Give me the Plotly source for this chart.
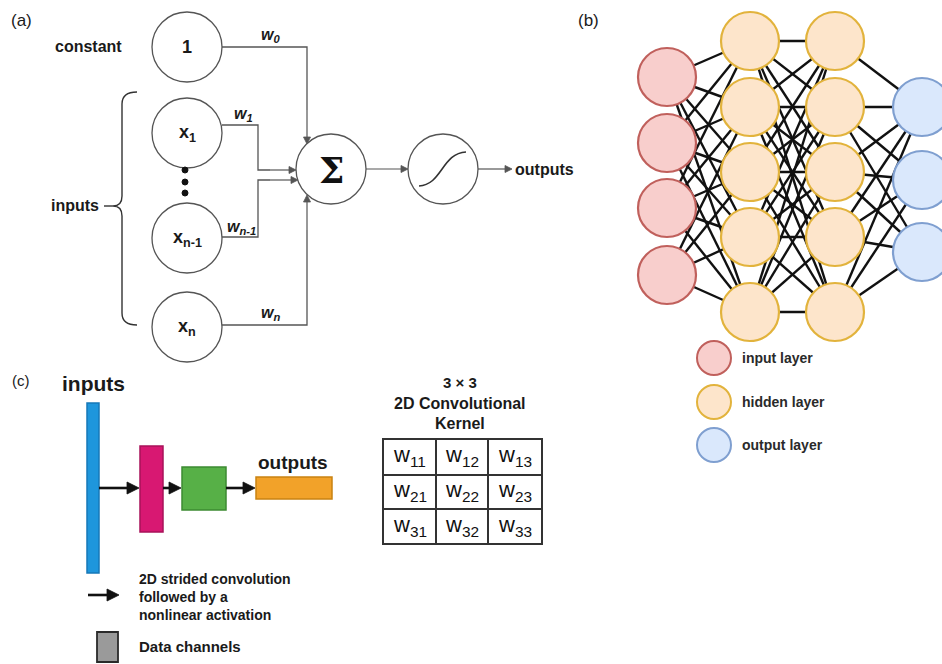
import math
import plotly.graph_objects as go

# ---------------- data ----------------
# (a) perceptron
perceptron_nodes = ["1", "x<sub>1</sub>", "x<sub>n-1</sub>", "x<sub>n</sub>"]
perceptron_weights = ["w<sub>0</sub>", "w<sub>1</sub>", "w<sub>n-1</sub>", "w<sub>n</sub>"]
perceptron_side_labels = ["constant", "inputs"]
perceptron_output = "outputs"

# (b) fully connected network
layer_sizes = [4, 5, 5, 3]
layer_kinds = ["input", "hidden", "hidden", "output"]
edges_in_h1 = {0: [0, 1, 2, 3, 4], 1: [0, 1, 2, 3, 4], 2: [0, 1, 2, 3, 4], 3: [1, 2, 3, 4]}
edges_h1_h2 = {0: [0, 1, 2, 3, 4], 1: [0, 1, 2, 3, 4], 2: [0, 1, 2, 3, 4], 3: [0, 1, 2, 3, 4], 4: [0, 1, 2, 3, 4]}
edges_h2_out = {0: [0], 1: [0, 1, 2], 2: [0, 1, 2], 3: [0, 1, 2], 4: [0, 1, 2]}
legend_b = ["input layer", "hidden layer", "output layer"]

# (c) CNN
cnn_labels = ["inputs", "outputs"]
cnn_legend = ["2D strided convolution<br>followed by a<br>nonlinear activation", "Data channels"]
kernel_title = ["3 × 3", "2D Convolutional", "Kernel"]
kernel_cells = [["w<sub>11</sub>", "w<sub>12</sub>", "w<sub>13</sub>"],
                ["w<sub>21</sub>", "w<sub>22</sub>", "w<sub>23</sub>"],
                ["w<sub>31</sub>", "w<sub>32</sub>", "w<sub>33</sub>"]]
panel_tags = ["(a)", "(b)", "(c)"]

# ---------------- drawing helpers ----------------
FONT = "Liberation Sans, Arial, sans-serif"
shapes = []
annotations = []


def circle(cx, cy, r, fill="white", line="#555", width=1.3):
    shapes.append(dict(type="circle", xref="x", yref="y", x0=cx - r, x1=cx + r, y0=cy - r, y1=cy + r,
                       fillcolor=fill, line=dict(color=line, width=width)))


def seg(x0, y0, x1, y1, color="#555", width=1.3):
    shapes.append(dict(type="line", xref="x", yref="y", x0=x0, y0=y0, x1=x1, y1=y1,
                       line=dict(color=color, width=width)))


def path(d, color="#555", width=1.3, fill=None):
    s = dict(type="path", xref="x", yref="y", path=d, line=dict(color=color, width=width))
    if fill:
        s["fillcolor"] = fill
    shapes.append(s)


def rect(x0, y0, x1, y1, fill, line, width=1.5):
    shapes.append(dict(type="rect", xref="x", yref="y", x0=x0, y0=y0, x1=x1, y1=y1,
                       fillcolor=fill, line=dict(color=line, width=width)))


def text(x, y, s, size=15, bold=True, anchor="center", color="#1a1a1a", italic=False,
         family=FONT, align="center"):
    if italic:
        s = "<i>" + s + "</i>"
    if bold:
        s = "<b>" + s + "</b>"
    annotations.append(dict(x=x, y=y, xref="x", yref="y", text=s, showarrow=False,
                            xanchor=anchor, yanchor="middle", align=align,
                            font=dict(family=family, size=size, color=color)))


def arrow(x0, y0, x1, y1, color="#555", width=1.2, head_len=7, head_w=3.5):
    dx, dy = x1 - x0, y1 - y0
    L = math.hypot(dx, dy)
    ux, uy = dx / L, dy / L
    bx, by = x1 - ux * head_len, y1 - uy * head_len
    seg(x0, y0, bx, by, color=color, width=width)
    px, py = -uy * head_w, ux * head_w
    path(f"M {x1} {y1} L {bx + px} {by + py} L {bx - px} {by - py} Z", color=color, width=0.8, fill=color)


# ---------------- (a) perceptron ----------------
text(21, 20, panel_tags[0], size=17, bold=False)
node_x = 187
node_y = [47, 133, 238, 327]
r_a = 35
for lab, y in zip(perceptron_nodes, node_y):
    circle(node_x, y, r_a)
    text(node_x, y, lab, size=18)
for yy in [170, 182, 193]:
    circle(185, yy, 3, fill="#111", line="#111", width=1)

text(88, 46, perceptron_side_labels[0], size=16)
text(75, 205, perceptron_side_labels[1], size=16)
# brace
path("M 137 92 Q 122 92 122 104 L 122 196 Q 122 206 113 206 Q 122 206 122 216 "
     "L 122 313 Q 122 325 137 325", color="#333", width=1.4)
seg(104, 206, 113, 206, color="#333", width=1.4)

sx, sy, sr = 331, 169, 35
# connection lines
path("M 222 47 L 307 47 L 307 110")
arrow(307, 110, 307, 144)
path("M 222 125 L 258 125 L 258 170 L 270 170")
arrow(270, 170, 296, 170)
path("M 222 237 L 258 237 L 258 180 L 270 180")
arrow(270, 180, 298, 180)
path("M 222 325 L 307 325 L 307 230")
arrow(307, 230, 307, 195)
text(270, 35, perceptron_weights[0], size=16, italic=True)
text(243, 114, perceptron_weights[1], size=16, italic=True)
text(241, 227, perceptron_weights[2], size=16, italic=True)
text(270, 313, perceptron_weights[3], size=16, italic=True)

circle(sx, sy, sr)
text(sx, sy + 1, "Σ", size=36, color="#111", family="DejaVu Serif, serif")
arrow(366, 169, 408, 169)
circle(443, 169, 35)
path("M 419 186 C 442 185 442 153 466 152", color="#333", width=1.6)
arrow(478, 169, 512, 169)
text(513, 169, perceptron_output, size=16, anchor="left")

# ---------------- (b) network ----------------
text(588, 20, panel_tags[1], size=17, bold=False)
layer_x = [667, 750, 835, 922]
layer_y = [[77, 143, 208, 275],
           [41, 107, 172, 237, 312],
           [41, 107, 172, 237, 312],
           [107, 180, 252]]
styles = {"input": ("#F8CECC", "#C0605C"),
          "hidden": ("#FDE5CB", "#E2B33C"),
          "output": ("#DAE8FC", "#7F9FD0")}
for li, edges in enumerate([edges_in_h1, edges_h1_h2, edges_h2_out]):
    for a, targets in edges.items():
        for b in targets:
            seg(layer_x[li], layer_y[li][a], layer_x[li + 1], layer_y[li + 1][b], color="#111", width=2.4)
for li, n in enumerate(layer_sizes):
    fill, ln = styles[layer_kinds[li]]
    for k in range(n):
        circle(layer_x[li], layer_y[li][k], 29, fill=fill, line=ln, width=2.2)

leg_y = [358, 402, 445]
for lab, kind, y in zip(legend_b, ["input", "hidden", "output"], leg_y):
    fill, ln = styles[kind]
    circle(714, y, 17, fill=fill, line=ln, width=2)
    text(740, y, lab, size=14, anchor="left", color="#2a2a2a")

# ---------------- (c) CNN ----------------
text(21, 380, panel_tags[2], size=15, bold=False)
text(93, 383, cnn_labels[0], size=21)
rect(87, 403, 99, 573, "#1E96DC", "#1678B8")
rect(140, 446, 163, 532, "#D81872", "#A8125A")
rect(182, 467, 226, 510, "#57B047", "#3D8A32")
rect(256, 477, 332, 499, "#F2A229", "#C98212")
text(293, 462, cnn_labels[1], size=19)
arrow(99, 488, 139, 488, color="#111", width=2.6, head_len=12, head_w=6)
arrow(163, 488, 181, 488, color="#111", width=2.6, head_len=12, head_w=6)
arrow(226, 488, 255, 488, color="#111", width=2.6, head_len=12, head_w=6)

arrow(88, 595, 119, 595, color="#111", width=2.6, head_len=12, head_w=6)
text(137, 597, cnn_legend[0], size=14, anchor="left", align="left")
rect(97, 632, 118, 662, "#9A9A9A", "#2a2a2a", width=1.8)
text(137, 646, cnn_legend[1], size=15, anchor="left")

# kernel
text(460, 382, kernel_title[0], size=15)
text(460, 403, kernel_title[1], size=16)
text(460, 423, kernel_title[2], size=16)
col_x = [383, 436, 488, 542]
row_y = [439, 475, 509, 544]
for i in range(3):
    for j in range(3):
        rect(col_x[j], row_y[i], col_x[j + 1], row_y[i + 1], "white", "#333", width=2)
        text((col_x[j] + col_x[j + 1]) / 2, (row_y[i] + row_y[i + 1]) / 2 - 1, kernel_cells[i][j],
             size=22, bold=False, color="#111")

# ---------------- figure ----------------
fig = go.Figure(go.Scatter(x=[None], y=[None], showlegend=False))
fig.update_layout(width=942, height=664, margin=dict(l=0, r=0, t=0, b=0),
                  plot_bgcolor="white", paper_bgcolor="white", showlegend=False,
                  xaxis=dict(range=[0, 942], visible=False, fixedrange=True),
                  yaxis=dict(range=[664, 0], visible=False, fixedrange=True),
                  shapes=shapes, annotations=annotations)
fig.write_html("out.html", config={"displayModeBar": False},
               post_script="document.body.style.margin='0';")
